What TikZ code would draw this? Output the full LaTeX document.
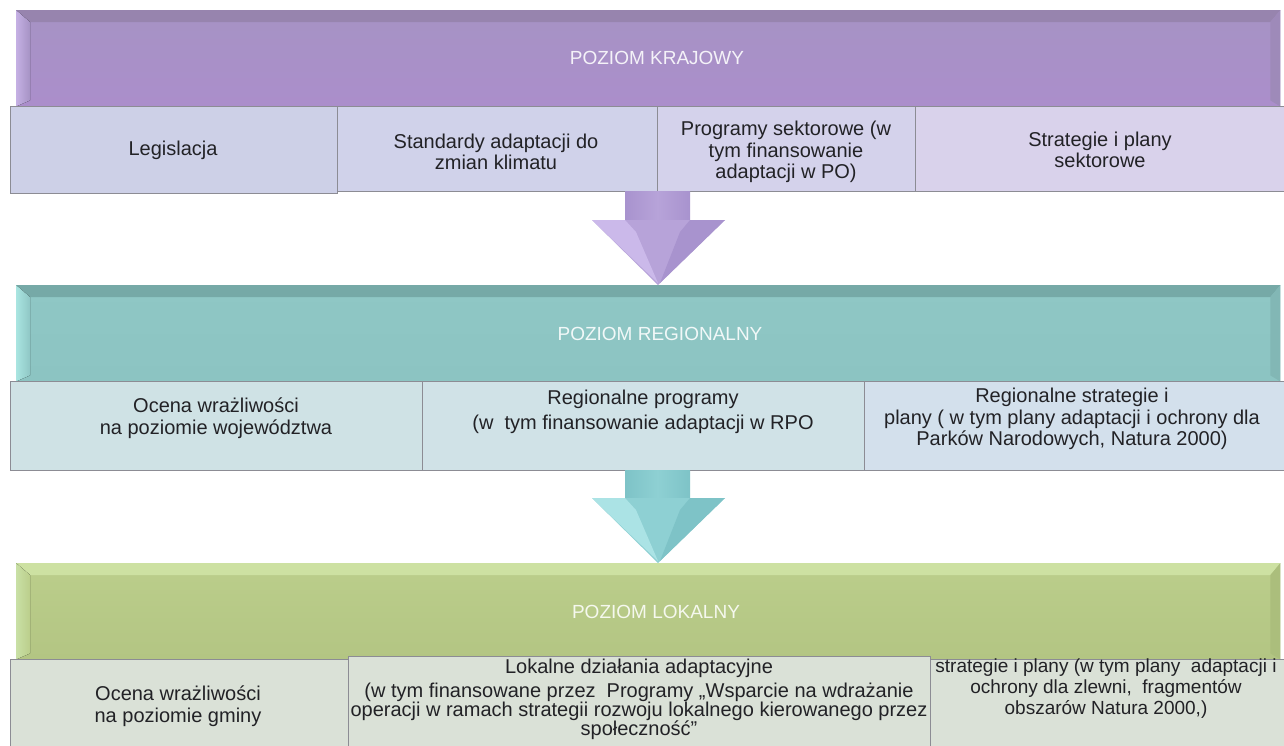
\documentclass[tikz,border=0pt]{standalone}
\usepackage{fontspec}
\setmainfont{Liberation Sans}
\definecolor{purpMain}{HTML}{A693C4}
\definecolor{purpBot}{HTML}{AB8ECB}
\definecolor{purpTop}{HTML}{9784AE}
\definecolor{purpLeft}{HTML}{C5B0E4}
\definecolor{purpRight}{HTML}{9E8AB9}
\definecolor{tealMain}{HTML}{8FC7C5}
\definecolor{tealBot}{HTML}{8CC4C2}
\definecolor{tealTop}{HTML}{76A9A7}
\definecolor{tealLeft}{HTML}{AAE5E1}
\definecolor{tealRight}{HTML}{82B7B5}
\definecolor{greenMain}{HTML}{BBCE8B}
\definecolor{greenBot}{HTML}{B3C583}
\definecolor{greenTop}{HTML}{CDE1A2}
\definecolor{greenLeft}{HTML}{C9E0A6}
\definecolor{greenRight}{HTML}{ABBE7C}
\definecolor{cellLine}{HTML}{8C8C94}
\definecolor{txt}{HTML}{222226}
\definecolor{pA}{HTML}{CDD0E7}
\definecolor{pB}{HTML}{D0D2EA}
\definecolor{pC}{HTML}{D4D2EB}
\definecolor{pD}{HTML}{D9D2EB}
\definecolor{tA}{HTML}{CFE2E5}
\definecolor{tB}{HTML}{D0E2E7}
\definecolor{tC}{HTML}{D3E0EC}
\definecolor{gA}{HTML}{DAE1D7}
\definecolor{arrP}{HTML}{B7A3D9}
\definecolor{arrPl}{HTML}{CBB9EA}
\definecolor{arrPd}{HTML}{A893CE}
\definecolor{arrT}{HTML}{8ED0D3}
\definecolor{arrTl}{HTML}{ABE3E5}
\definecolor{arrTd}{HTML}{7EC3C7}
\tikzset{
  band/.style={anchor=north west, minimum width=1264pt, minimum height=96pt, inner sep=0pt, draw=none},
  cell/.style={anchor=north west, draw=cellLine, line width=0.8pt, inner sep=0pt},
  lbl/.style={font=\fontsize{20}{21.5}\selectfont, text=txt, align=center, inner sep=0pt},
  ttl/.style={font=\fontsize{19}{21}\selectfont, inner sep=0pt},
}
\begin{document}
\begin{tikzpicture}[x=1pt,y=-1pt]
\useasboundingbox[fill=white] (0,0) rectangle (1284,745);

% ---------- national band ----------
\node[band, top color=purpMain, bottom color=purpBot] (b1) at (16,10) {};
\fill[purpTop] (b1.north west) -- (b1.north east) -- ([xshift=-10pt,yshift=-12pt]b1.north east) -- ([xshift=14pt,yshift=-12pt]b1.north west) -- cycle;
\fill[left color=purpLeft, right color=purpMain] (b1.north west) -- ([xshift=14pt,yshift=-12pt]b1.north west) -- ([xshift=14pt,yshift=6pt]b1.south west) -- (b1.south west) -- cycle;
\fill[purpRight] (b1.north east) -- (b1.south east) -- ([xshift=-10pt,yshift=6pt]b1.south east) -- ([xshift=-10pt,yshift=-12pt]b1.north east) -- cycle;
\node[ttl, text=white!88!purpMain] (t1) at (657,58) {POZIOM KRAJOWY};

\node[cell, fill=pA, minimum width=327pt, minimum height=87pt] (k1) at (10,106) {};
\node[cell, fill=pB, minimum width=320pt, minimum height=85pt] (k2) at (337,106) {};
\node[cell, fill=pC, minimum width=258pt, minimum height=85pt] (k3) at (657,106) {};
\node[cell, fill=pD, minimum width=372pt, minimum height=85pt] (k4) at (915,106) {};
\node[lbl] (l11) at (173,150) {Legislacja};
\node[lbl] (l12) at (496,152) {Standardy adaptacji do\\zmian klimatu};
\node[lbl] (l13) at (786,152) {Programy sektorowe (w\\tym finansowanie\\adaptacji w PO)};
\node[lbl] (l14) at (1100,150) {Strategie i plany\\sektorowe};

% ---------- arrow 1 ----------
\fill[left color=arrPd, right color=arrPd, middle color=arrP] (625,191) -- (690,191) -- (690,220) -- (625,220) -- cycle;
\fill[arrP] (592,220) -- (725,220) -- (658,285) -- cycle;
\fill[arrPl] (592,220) -- (625,220) -- (636,232) -- (658,283) -- cycle;
\fill[arrPd] (690,220) -- (725,220) -- (660,283) -- (680,232) -- cycle;

% ---------- regional band ----------
\node[band, top color=tealMain, bottom color=tealBot] (b2) at (16,285) {};
\fill[tealTop] (b2.north west) -- (b2.north east) -- ([xshift=-10pt,yshift=-12pt]b2.north east) -- ([xshift=14pt,yshift=-12pt]b2.north west) -- cycle;
\fill[left color=tealLeft, right color=tealMain] (b2.north west) -- ([xshift=14pt,yshift=-12pt]b2.north west) -- ([xshift=14pt,yshift=6pt]b2.south west) -- (b2.south west) -- cycle;
\fill[tealRight] (b2.north east) -- (b2.south east) -- ([xshift=-10pt,yshift=6pt]b2.south east) -- ([xshift=-10pt,yshift=-12pt]b2.north east) -- cycle;
\node[ttl, text=white!88!tealMain] (t2) at (660,334) {POZIOM REGIONALNY};

\node[cell, fill=tA, minimum width=412pt, minimum height=89pt] (r1) at (10,381) {};
\node[cell, fill=tB, minimum width=442pt, minimum height=89pt] (r2) at (422,381) {};
\node[cell, fill=tC, minimum width=425pt, minimum height=89pt] (r3) at (864,381) {};
\node[lbl] (l21) at (216,418) {Ocena wrażliwości\\na poziomie województwa};
\node[lbl] (l22) at (643,412) {Regionalne programy\\[4pt](w\ \ tym finansowanie adaptacji w RPO};
\node[lbl] (l23) at (1072,419) {Regionalne strategie i\\plany ( w tym plany adaptacji i ochrony dla\\Parków Narodowych, Natura 2000)};

% ---------- arrow 2 ----------
\fill[left color=arrTd, right color=arrTd, middle color=arrT] (625,470) -- (690,470) -- (690,498) -- (625,498) -- cycle;
\fill[arrT] (592,498) -- (725,498) -- (658,563) -- cycle;
\fill[arrTl] (592,498) -- (625,498) -- (636,510) -- (658,561) -- cycle;
\fill[arrTd] (690,498) -- (725,498) -- (660,561) -- (680,510) -- cycle;

% ---------- local band ----------
\node[band, top color=greenMain, bottom color=greenBot] (b3) at (16,563) {};
\fill[greenTop] (b3.north west) -- (b3.north east) -- ([xshift=-10pt,yshift=-12pt]b3.north east) -- ([xshift=14pt,yshift=-12pt]b3.north west) -- cycle;
\fill[left color=greenLeft, right color=greenMain] (b3.north west) -- ([xshift=14pt,yshift=-12pt]b3.north west) -- ([xshift=14pt,yshift=6pt]b3.south west) -- (b3.south west) -- cycle;
\fill[greenRight] (b3.north east) -- (b3.south east) -- ([xshift=-10pt,yshift=6pt]b3.south east) -- ([xshift=-10pt,yshift=-12pt]b3.north east) -- cycle;
\node[ttl, text=white!85!greenMain] (t3) at (656,612) {POZIOM LOKALNY};

\node[cell, fill=gA, minimum width=338pt, minimum height=90pt] (g1) at (10,659) {};
\node[cell, fill=gA, minimum width=582pt, minimum height=92pt] (g2) at (348,656) {};
\node[cell, fill=gA, minimum width=360pt, minimum height=90pt] (g3) at (930,659) {};
\node[lbl] (l31) at (178,706) {Ocena wrażliwości\\na poziomie gminy};
\node[lbl, font=\fontsize{20}{19}\selectfont, anchor=north] (l32) at (639,659) {Lokalne działania adaptacyjne\\[5pt](w tym finansowane przez\ \ Programy „Wsparcie na wdrażanie\\operacji w ramach strategii rozwoju lokalnego kierowanego przez\\społeczność”};
\node[lbl, font=\fontsize{19}{21}\selectfont, anchor=north] (l33) at (1106,659) {strategie i plany (w tym plany\ \ adaptacji i\\ochrony dla zlewni,\ \ fragmentów\\obszarów Natura 2000,)};
\end{tikzpicture}
\end{document}
